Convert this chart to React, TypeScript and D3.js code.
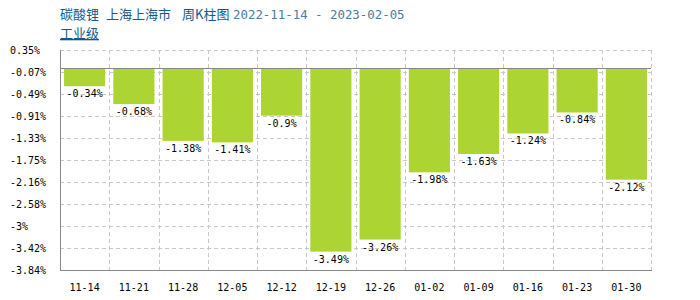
import React from "react";
import * as d3 from "d3";

const categories = ["11-14", "11-21", "11-28", "12-05", "12-12", "12-19", "12-26", "01-02", "01-09", "01-16", "01-23", "01-30"];
const values = [-0.34, -0.68, -1.38, -1.41, -0.9, -3.49, -3.26, -1.98, -1.63, -1.24, -0.84, -2.12];
const tickValues = [0.35, -0.069, -0.488, -0.907, -1.326, -1.745, -2.164, -2.583, -3.002, -3.421, -3.84];
const tickLabels = ["0.35%", "-0.07%", "-0.49%", "-0.91%", "-1.33%", "-1.75%", "-2.16%", "-2.58%", "-3%", "-3.42%", "-3.84%"];

const W = 700, H = 300;
const L = 60, R = 651, T = 50, B = 270;
const MONO = "'DejaVu Sans Mono', 'Liberation Mono', monospace";
const CJK = "'Noto Sans CJK SC', sans-serif";
const BAR = "#acd432";

export default function App() {
  const x = d3.scaleBand<string>().domain(categories).range([L, R]).paddingInner(0.165).paddingOuter(0.0825);
  const col = d3.scaleBand<string>().domain(categories).range([L, R]);
  const y = d3.scaleLinear().domain([0.35, -3.84]).range([T, B]);
  const y0 = y(0);
  return (
    <svg width={W} height={H} style={{ position: "absolute", left: 0, top: 0, background: "#fff" }}>
      <text x={60} y={19} fontSize={13} fill="#11598c" fontFamily={CJK}>碳酸锂</text>
      <text x={106} y={19} fontSize={13} fill="#11598c" fontFamily={CJK}>上海上海市</text>
      <text x={182} y={19} fontSize={13} fill="#11598c" fontFamily={CJK}>周K柱图</text>
      <text x={233} y={19} fontSize={12.4} fill="#4a7ca3" fontFamily={MONO}>2022-11-14 - 2023-02-05</text>
      <text x={60} y={38} fontSize={13} fill="#11598c" fontFamily={CJK} textDecoration="underline">工业级</text>

      {tickValues.map((t, i) => (
        <line key={"h" + i} x1={L} x2={R} y1={Math.round(y(t)) + 0.5} y2={Math.round(y(t)) + 0.5} stroke="#c8c8c8" strokeDasharray="4,3" />
      ))}
      {categories.map((c, i) => (
        <line key={"v" + i} x1={Math.round((col(c) as number) + col.bandwidth()) + 0.5} x2={Math.round((col(c) as number) + col.bandwidth()) + 0.5} y1={T} y2={B} stroke="#c8c8c8" strokeDasharray="4,3" />
      ))}

      {values.map((v, i) => (
        <rect key={"b" + i} x={x(categories[i])} y={y0} width={x.bandwidth()} height={y(v) - y0} fill={BAR} />
      ))}
      {values.map((v, i) => (
        <text key={"l" + i} x={(x(categories[i]) as number) + x.bandwidth() / 2} y={y(v) + 11} fontSize={10} fontFamily={MONO} textAnchor="middle" fill="#000">{`${v}%`}</text>
      ))}

      <line x1={L} x2={R} y1={Math.round(y0) + 0.5} y2={Math.round(y0) + 0.5} stroke="#888" />
      <line x1={L + 0.5} x2={L + 0.5} y1={T} y2={B} stroke="#888" />
      <line x1={L} x2={R + 1} y1={B + 0.5} y2={B + 0.5} stroke="#888" />

      {tickValues.map((t, i) => (
        <text key={"t" + i} x={10} y={y(t) + 3.5} fontSize={10} fontFamily={MONO} fill="#000">{tickLabels[i]}</text>
      ))}
      {categories.map((c) => (
        <text key={"x" + c} x={(col(c) as number) + col.bandwidth() / 2} y={291} fontSize={10} fontFamily={MONO} textAnchor="middle" fill="#000">{c}</text>
      ))}
    </svg>
  );
}
